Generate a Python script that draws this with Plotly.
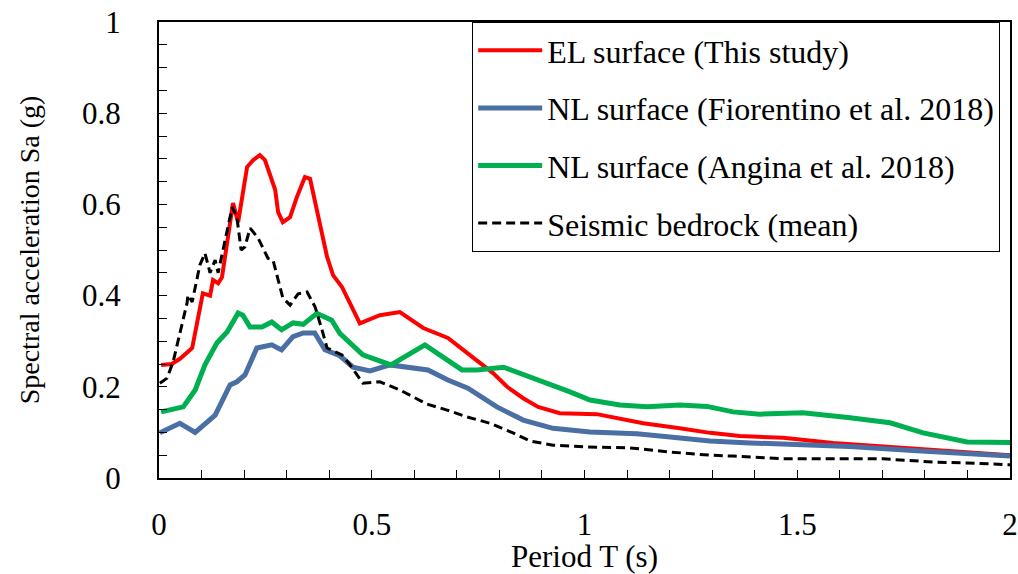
import plotly.graph_objects as go

# EL surface (This study)
el_T = [0.005, 0.03, 0.05, 0.078, 0.103, 0.12, 0.127, 0.139, 0.148, 0.174, 0.186, 0.207, 0.221, 0.237, 0.249,
        0.265, 0.273, 0.28, 0.291, 0.308, 0.324, 0.343, 0.355, 0.395, 0.409, 0.43, 0.472, 0.519, 0.543, 0.566,
        0.621, 0.649, 0.679, 0.715, 0.754, 0.785, 0.818, 0.856, 0.891, 0.942, 1.029, 1.138, 1.224, 1.295,
        1.365, 1.467, 1.584, 1.702, 1.819, 1.937, 2.0]
el_Sa = [0.248, 0.25, 0.262, 0.285, 0.405, 0.40, 0.434, 0.427, 0.44, 0.603, 0.561, 0.682, 0.697, 0.708, 0.697,
         0.653, 0.632, 0.583, 0.561, 0.572, 0.616, 0.66, 0.656, 0.485, 0.445, 0.419, 0.339, 0.357, 0.36, 0.364,
         0.329, 0.318, 0.307, 0.281, 0.254, 0.23, 0.2, 0.175, 0.156, 0.142, 0.14, 0.12, 0.109, 0.099,
         0.092, 0.088, 0.077, 0.069, 0.063, 0.055, 0.05]

# NL surface (Fiorentino et al. 2018)
fi_T = [0.002, 0.049, 0.085, 0.132, 0.167, 0.183, 0.202, 0.23, 0.265, 0.288, 0.315, 0.339, 0.366, 0.39, 0.425,
        0.456, 0.496, 0.543, 0.632, 0.679, 0.726, 0.794, 0.856, 0.926, 1.013, 1.123, 1.201, 1.295, 1.389,
        1.624, 1.781, 1.937, 2.0]
fi_Sa = [0.099, 0.12, 0.10, 0.138, 0.204, 0.211, 0.226, 0.285, 0.292, 0.281, 0.31, 0.318, 0.318, 0.281, 0.268,
         0.243, 0.235, 0.248, 0.237, 0.215, 0.197, 0.156, 0.127, 0.109, 0.101, 0.097, 0.09, 0.081, 0.077,
         0.069, 0.06, 0.052, 0.048]

# NL surface (Angina et al. 2018)
an_T = [0.005, 0.057, 0.085, 0.108, 0.136, 0.16, 0.186, 0.197, 0.214, 0.242, 0.265, 0.288, 0.315, 0.339, 0.371,
        0.406, 0.425, 0.479, 0.545, 0.625, 0.712, 0.747, 0.81, 0.895, 0.966, 1.013, 1.083, 1.147, 1.224, 1.288,
        1.349, 1.412, 1.513, 1.624, 1.718, 1.796, 1.899, 2.0]
an_Sa = [0.145, 0.156, 0.193, 0.248, 0.296, 0.32, 0.362, 0.357, 0.331, 0.331, 0.342, 0.325, 0.34, 0.337, 0.361,
         0.346, 0.317, 0.27, 0.248, 0.292, 0.237, 0.237, 0.243, 0.215, 0.189, 0.171, 0.16, 0.156, 0.16, 0.157,
         0.145, 0.14, 0.143, 0.132, 0.121, 0.099, 0.079, 0.078]

# Seismic bedrock (mean)
br_T = [0.002, 0.019, 0.033, 0.049, 0.066, 0.068, 0.078, 0.096, 0.108, 0.12, 0.132, 0.139, 0.155, 0.172, 0.183,
        0.193, 0.202, 0.214, 0.233, 0.256, 0.268, 0.291, 0.308, 0.327, 0.348, 0.367, 0.383, 0.395, 0.43, 0.449,
        0.479, 0.519, 0.566, 0.63, 0.677, 0.724, 0.778, 0.832, 0.872, 0.926, 1.006, 1.107, 1.201, 1.295,
        1.349, 1.467, 1.702, 1.819, 1.899, 2.0]
br_Sa = [0.208, 0.219, 0.254, 0.318, 0.384, 0.401, 0.386, 0.467, 0.493, 0.45, 0.478, 0.45, 0.522, 0.594, 0.572,
         0.5, 0.507, 0.548, 0.526, 0.482, 0.478, 0.395, 0.379, 0.404, 0.408, 0.375, 0.325, 0.285, 0.27, 0.248,
         0.208, 0.211, 0.193, 0.162, 0.149, 0.134, 0.12, 0.099, 0.081, 0.072, 0.068, 0.066, 0.057, 0.05,
         0.048, 0.042, 0.042, 0.035, 0.033, 0.029]

names = ["EL surface (This study)", "NL surface (Fiorentino et al. 2018)",
         "NL surface (Angina et al. 2018)", "Seismic bedrock (mean)"]

FONT = "Liberation Serif, Times New Roman, serif"

fig = go.Figure()
fig.add_trace(go.Scatter(x=el_T, y=el_Sa, mode="lines", name=names[0], legendgroup="a",
                         line=dict(color="#FF0000", width=4)))
fig.add_trace(go.Scatter(x=fi_T, y=fi_Sa, mode="lines", name=names[1], legendgroup="b",
                         line=dict(color="#4A6FA5", width=5)))
fig.add_trace(go.Scatter(x=an_T, y=an_Sa, mode="lines", name=names[2], legendgroup="c",
                         line=dict(color="#00B050", width=5)))
fig.add_trace(go.Scatter(x=br_T, y=br_Sa, mode="lines", name=names[3], legendgroup="d",
                         line=dict(color="#000000", width=3, dash="9px,5px")))

fig.update_layout(
    width=1018, height=574,
    margin=dict(l=159, r=8, t=22, b=96),
    paper_bgcolor="white", plot_bgcolor="white",
    font=dict(family=FONT, size=31, color="#000000"),
    showlegend=True,
    legend=dict(x=0.368, y=1.0, xanchor="left", yanchor="top",
                bgcolor="white", bordercolor="#000000", borderwidth=1,
                font=dict(family=FONT, size=32), tracegroupgap=13,
                itemwidth=64),
    xaxis=dict(range=[0, 2], tickvals=[0, 0.5, 1, 1.5, 2], ticktext=["0", "0.5", "1", "1.5", "2"],
               ticks="inside", ticklen=8, tickcolor="#000000", automargin=False,
               minor=dict(dtick=0.1, ticks="inside", ticklen=8, tickcolor="#000000"),
               showline=True, linecolor="#000000", linewidth=2, mirror=True,
               showgrid=False, zeroline=False, ticklabelstandoff=18,
               title=dict(text="Period T (s)", font=dict(size=31), standoff=2)),
    yaxis=dict(range=[0, 1], tickvals=[0, 0.2, 0.4, 0.6, 0.8, 1], ticktext=["0", "0.2", "0.4", "0.6", "0.8", "1"],
               ticks="inside", ticklen=8, tickcolor="#000000", automargin=False,
               minor=dict(dtick=0.05, ticks="inside", ticklen=8, tickcolor="#000000"),
               showline=True, linecolor="#000000", linewidth=2, mirror=True,
               showgrid=False, zeroline=False, ticklabelstandoff=30,
               title=dict(text="Spectral acceleration Sa (g)", font=dict(size=28), standoff=34)),
)

fig.write_html("out.html", config={"displayModeBar": False},
               post_script="document.body.style.margin='0';document.body.style.overflow='hidden';")
